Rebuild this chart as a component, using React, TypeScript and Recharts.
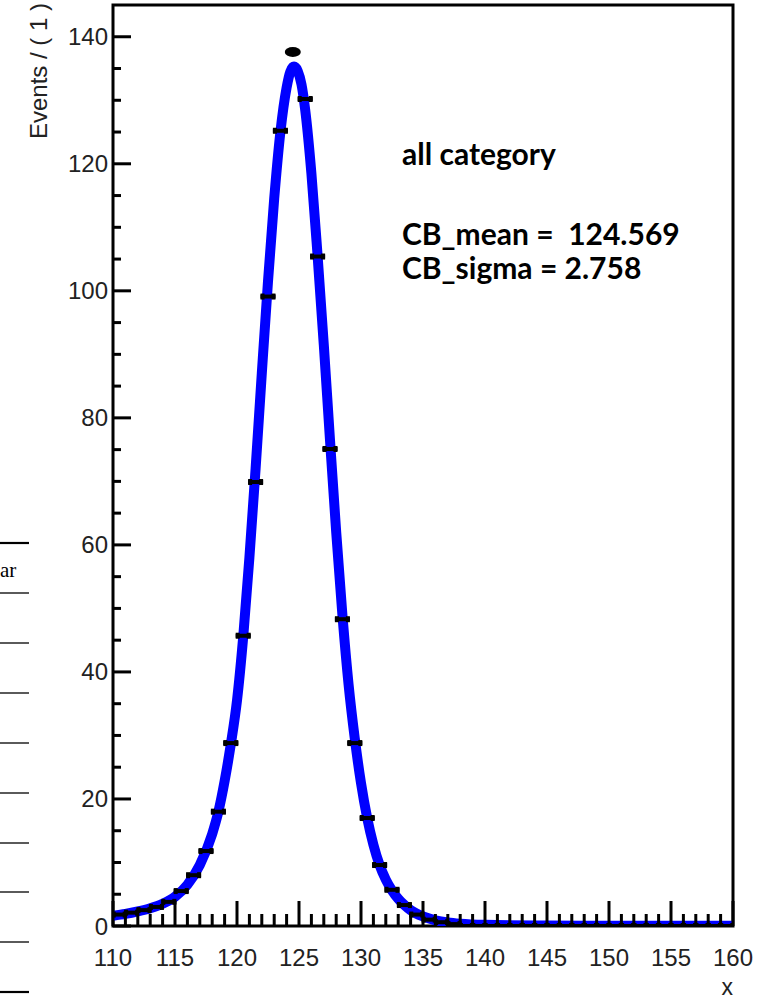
import React from 'react';
import { ComposedChart, Line, Scatter, XAxis, YAxis, ReferenceArea } from 'recharts';

// ---- data ----
const binCenters = [
  110.5, 111.5, 112.5, 113.5, 114.5, 115.5, 116.5, 117.5, 118.5, 119.5,
  120.5, 121.5, 122.5, 123.5, 124.5, 125.5, 126.5, 127.5, 128.5, 129.5,
  130.5, 131.5, 132.5, 133.5, 134.5, 135.5, 136.5, 137.5, 138.5, 139.5,
  140.5, 141.5, 142.5, 143.5, 144.5, 145.5, 146.5, 147.5, 148.5, 149.5,
  150.5, 151.5, 152.5, 153.5, 154.5, 155.5, 156.5, 157.5, 158.5, 159.5,
];
const binCounts = [
  1.8, 2.1, 2.5, 3.0, 3.8, 5.5, 8.0, 11.8, 18.0, 28.8,
  45.7, 69.9, 99.1, 125.2, 137.6, 130.2, 105.4, 75.1, 48.3, 28.8,
  17.0, 9.6, 5.7, 3.3, 1.8, 1.0, 0.6, 0.3, 0, 0,
  0, 0, 0, 0, 0, 0, 0, 0, 0, 0,
  0, 0, 0, 0, 0, 0, 0, 0, 0, 0,
];

const curveX = [
  110, 111, 112, 113, 114, 115, 116, 117, 118, 118.5, 119, 119.5, 120, 120.5,
  121, 121.5, 122, 122.5, 123, 123.5, 124, 124.3, 124.6, 124.9, 125.2, 125.5,
  126, 126.5, 127, 127.5, 128, 128.5, 129, 129.5, 130, 130.5, 131, 131.5, 132,
  132.5, 133, 133.5, 134, 135, 136, 137, 138, 140, 145, 150, 160,
];
const curveY = [
  1.6, 1.9, 2.3, 2.8, 3.5, 4.6, 6.5, 9.6, 14.5, 18.0, 22.8, 28.6, 35.5, 45.5,
  58, 72, 87, 101.5, 114.5, 125, 132, 134.5, 135.3, 134.6, 132.5, 128.5,
  118.5, 105.5, 91.5, 76.5, 62, 49, 38, 29.5, 22.5, 17, 12.8, 9.6, 7.3,
  5.6, 4.3, 3.3, 2.5, 1.5, 0.9, 0.55, 0.35, 0.18, 0.08, 0.04, 0.02,
];

const xTicks = [
  110, 111, 112, 113, 114, 115, 116, 117, 118, 119, 120, 121, 122, 123, 124, 125,
  126, 127, 128, 129, 130, 131, 132, 133, 134, 135, 136, 137, 138, 139, 140, 141,
  142, 143, 144, 145, 146, 147, 148, 149, 150, 151, 152, 153, 154, 155, 156, 157,
  158, 159, 160,
];
const yTicks = [0, 5, 10, 15, 20, 25, 30, 35, 40, 45, 50, 55, 60, 65, 70, 75, 80, 85, 90, 95, 100, 105, 110, 115, 120, 125, 130, 135, 140];
const xLabelStep = 5;
const yLabelStep = 20;
const xDomain = [110, 160];
const yDomain = [0, 145];

const yTitle = 'Events / ( 1 )';
const xTitle = 'x';
const infoLines = ['all category', 'CB_mean =  124.569', 'CB_sigma = 2.758'];

const points = binCenters.map((x, i) => ({ x, y: binCounts[i] }));
const curve = curveX.map((x, i) => ({ x, y: curveY[i] }));
const peakCount = Math.max(...binCounts);

const tickFont = '"Liberation Sans", Arial, sans-serif';

function XTick(props: any) {
  const { x, y, payload } = props;
  const v = payload.value;
  const major = v % xLabelStep === 0;
  return (
    <g>
      <line x1={x} x2={x} y1={y} y2={y - (major ? 25 : 12)} stroke="#000" strokeWidth={3} />
      {major && (
        <text x={x} y={y + 40} textAnchor="middle" fontFamily={tickFont} fontSize={24} fill="#222">
          {v}
        </text>
      )}
    </g>
  );
}

function YTick(props: any) {
  const { x, y, payload } = props;
  const v = payload.value;
  const major = v % yLabelStep === 0;
  return (
    <g>
      <line x1={x} x2={x + (major ? 18 : 8)} y1={y} y2={y} stroke="#000" strokeWidth={3} />
      {major && (
        <text x={x - 5} y={y + 8.5} textAnchor="end" fontFamily={tickFont} fontSize={24} fill="#222">
          {v}
        </text>
      )}
    </g>
  );
}

function PointShape(props: any) {
  const { cx, cy, payload } = props;
  if (cx == null || cy == null) return null;
  if (payload && payload.y === peakCount) {
    return <ellipse cx={cx} cy={cy} rx={8} ry={5} fill="#000" />;
  }
  return (
    <g>
      <rect x={cx - 7.5} y={cy - 2} width={15} height={4} fill="#000" />
      <rect x={cx - 7.5} y={cy - 3} width={4} height={6} fill="#000" />
      <rect x={cx + 3.5} y={cy - 3} width={4} height={6} fill="#000" />
    </g>
  );
}

const tableLines = [543, 593, 643, 693, 743, 793, 843, 892, 942, 992];

export default function App() {
  return (
    <div style={{ position: 'absolute', left: 0, top: 0, width: 769, height: 999, background: '#fff', overflow: 'hidden' }}>
      <ComposedChart
        width={769}
        height={999}
        margin={{ top: 5, right: 36, bottom: 33, left: 53 }}
      >
        <XAxis
          type="number"
          dataKey="x"
          domain={xDomain}
          ticks={xTicks}
          interval={0}
          height={40}
          tickSize={0}
          tickMargin={0}
          tickLine={false}
          axisLine={false}
          tick={<XTick />}
          allowDataOverflow
        />
        <YAxis
          type="number"
          domain={yDomain}
          ticks={yTicks}
          interval={0}
          width={60}
          tickSize={0}
          tickMargin={0}
          tickLine={false}
          axisLine={false}
          tick={<YTick />}
          allowDataOverflow
        />
        <ReferenceArea
          x1={xDomain[0]}
          x2={xDomain[1]}
          y1={yDomain[0]}
          y2={yDomain[1]}
          fill="none"
          fillOpacity={0}
          stroke="#000"
          strokeWidth={3}
          ifOverflow="visible"
        />
        <Line
          data={curve}
          dataKey="y"
          type="monotone"
          stroke="#0000ff"
          strokeWidth={10}
          dot={false}
          activeDot={false}
          isAnimationActive={false}
        />
        <Scatter data={points} dataKey="y" shape={<PointShape />} isAnimationActive={false} />
      </ComposedChart>
      <svg
        width={769}
        height={999}
        style={{ position: 'absolute', left: 0, top: 0, pointerEvents: 'none' }}
      >
        <text
          x={47}
          y={3}
          transform="rotate(-90 47 3)"
          textAnchor="end"
          fontFamily={tickFont}
          fontSize={24}
          fill="#222"
        >
          {yTitle}
        </text>
        <text x={733} y={995} textAnchor="end" fontFamily={tickFont} fontSize={23} fill="#222">
          {xTitle}
        </text>
        <g fontFamily="Lato, 'Open Sans', sans-serif" fontWeight={700} fontSize={30} fill="#000">
          <text x={402} y={165} style={{ whiteSpace: 'pre' }}>{infoLines[0]}</text>
          <text x={402} y={245} style={{ whiteSpace: 'pre' }}>{infoLines[1]}</text>
          <text x={402} y={279} style={{ whiteSpace: 'pre' }}>{infoLines[2]}</text>
        </g>
        {tableLines.map((ly, i) => (
          <line
            key={i}
            x1={0}
            x2={29}
            y1={ly}
            y2={ly}
            stroke="#000"
            strokeWidth={i === 0 || i === tableLines.length - 1 ? 2.2 : 1.3}
          />
        ))}
        <text x={0} y={577} fontFamily="'Liberation Serif', serif" fontSize={21} fill="#000">ar</text>
      </svg>
    </div>
  );
}
